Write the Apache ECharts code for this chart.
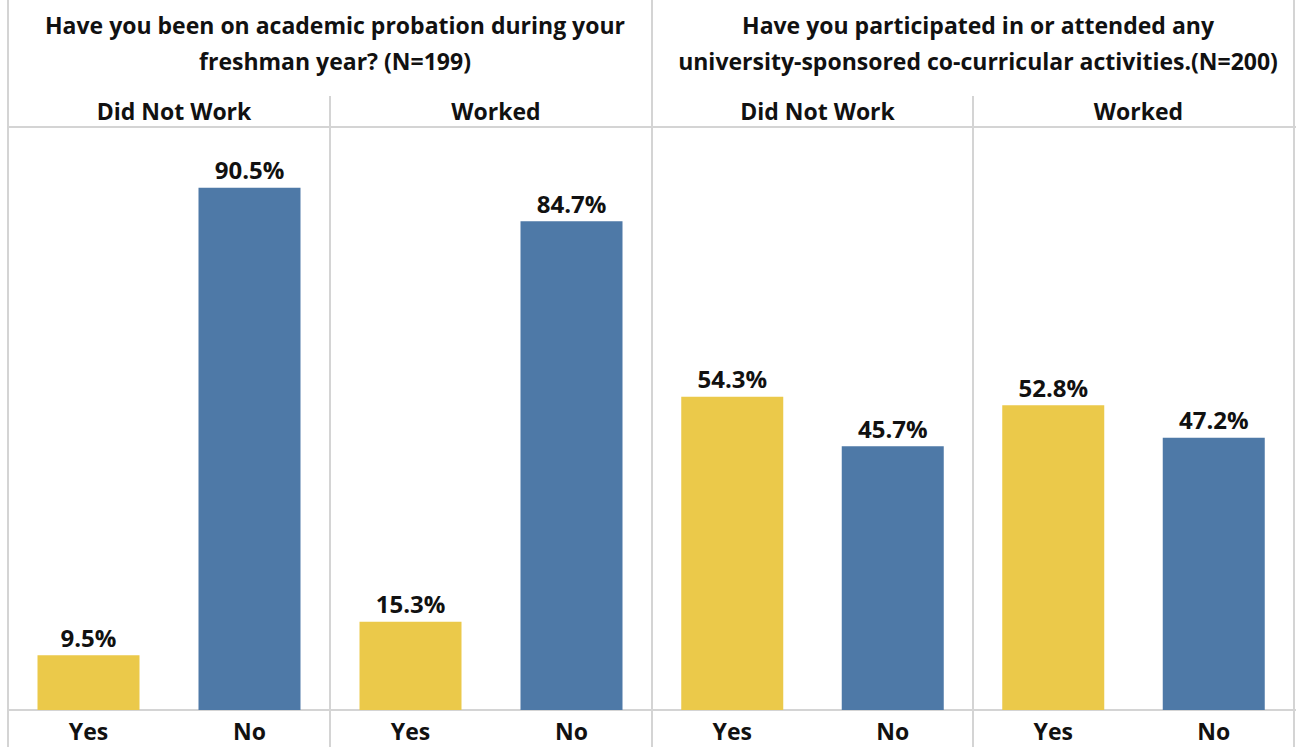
<!DOCTYPE html>
<html>
<head>
<meta charset="utf-8">
<style>
  html, body { margin: 0; padding: 0; background: #ffffff; }
  #chart { width: 1296px; height: 747px; }
</style>
<script src="https://cdn.jsdelivr.net/npm/echarts@6/dist/echarts.min.js"></script>
</head>
<body>
<div id="chart"></div>
<script>
// Survey answers (percent of respondents), split by work status
const categories = ['Yes', 'No'];
const questionTitles = [
  'Have you been on academic probation during your\nfreshman year? (N=199)',
  'Have you participated in or attended any\nuniversity-sponsored co-curricular activities.(N=200)'
];
const groupTitles = ['Did Not Work', 'Worked', 'Did Not Work', 'Worked'];
const probationDidNotWork = [9.5, 90.5];
const probationWorked = [15.3, 84.7];
const activitiesDidNotWork = [54.3, 45.7];
const activitiesWorked = [52.8, 47.2];
const panelValues = [probationDidNotWork, probationWorked, activitiesDidNotWork, activitiesWorked];

const FONT = 'Open Sans';
const YES_COLOR = '#EBC94A';
const NO_COLOR = '#4E79A7';
const RULE = '#D4D4D4';

// Panel edges in pixels
const edges = [8, 330, 652, 973, 1294];
const plotTop = 133;    // position of 100%
const axisY = 710;      // baseline
const H = 747, W = 1296;

const grids = [], xAxes = [], yAxes = [], series = [], titles = [];

panelValues.forEach((vals, i) => {
  grids.push({ left: edges[i], width: edges[i + 1] - edges[i], top: plotTop, bottom: H - axisY, containLabel: false });
  xAxes.push({
    gridIndex: i, type: 'category', data: categories,
    axisLine: { show: false }, axisTick: { show: false },
    axisLabel: { fontFamily: FONT, fontWeight: 'bold', fontSize: 23, color: '#111', margin: 9 }
  });
  yAxes.push({ gridIndex: i, type: 'value', min: 0, max: 100, show: false, splitLine: { show: false } });
  series.push({
    type: 'bar', xAxisIndex: i, yAxisIndex: i, barWidth: 102,
    data: vals.map((v, k) => ({ value: v, itemStyle: { color: k === 0 ? YES_COLOR : NO_COLOR } })),
    label: {
      show: true, position: 'top', distance: 6,
      formatter: p => p.value.toFixed(1) + '%',
      fontFamily: FONT, fontWeight: 'bold', fontSize: 24, color: '#111'
    }
  });
  titles.push({
    text: groupTitles[i], left: (edges[i] + edges[i + 1]) / 2, top: 94, textAlign: 'center',
    textStyle: { fontFamily: FONT, fontWeight: 'bold', fontSize: 23, color: '#111' }
  });
});

questionTitles.forEach((t, q) => {
  titles.push({
    text: t, left: (edges[q * 2] + edges[q * 2 + 2]) / 2, top: 2, textAlign: 'center',
    textStyle: { fontFamily: FONT, fontWeight: 'bold', fontSize: 23, lineHeight: 36, color: '#111' }
  });
});

// Table rules
const rule = (x1, y1, x2, y2) => ({
  type: 'line', shape: { x1, y1, x2, y2 }, style: { stroke: RULE, lineWidth: 2 }, silent: true, z: 0
});
const graphics = [
  rule(edges[0], 0, edges[0], H),
  rule(edges[2], 0, edges[2], H),
  rule(edges[4], 0, edges[4], H),
  rule(edges[1], 96, edges[1], H),
  rule(edges[3], 96, edges[3], H),
  rule(edges[0], 127, W, 127),
  rule(edges[0], axisY, W, axisY)
];

const chart = echarts.init(document.getElementById('chart'), null, { renderer: 'svg' });
chart.setOption({
  animation: false,
  backgroundColor: '#ffffff',
  title: titles,
  grid: grids,
  xAxis: xAxes,
  yAxis: yAxes,
  series: series,
  graphic: graphics
});
</script>
</body>
</html>
